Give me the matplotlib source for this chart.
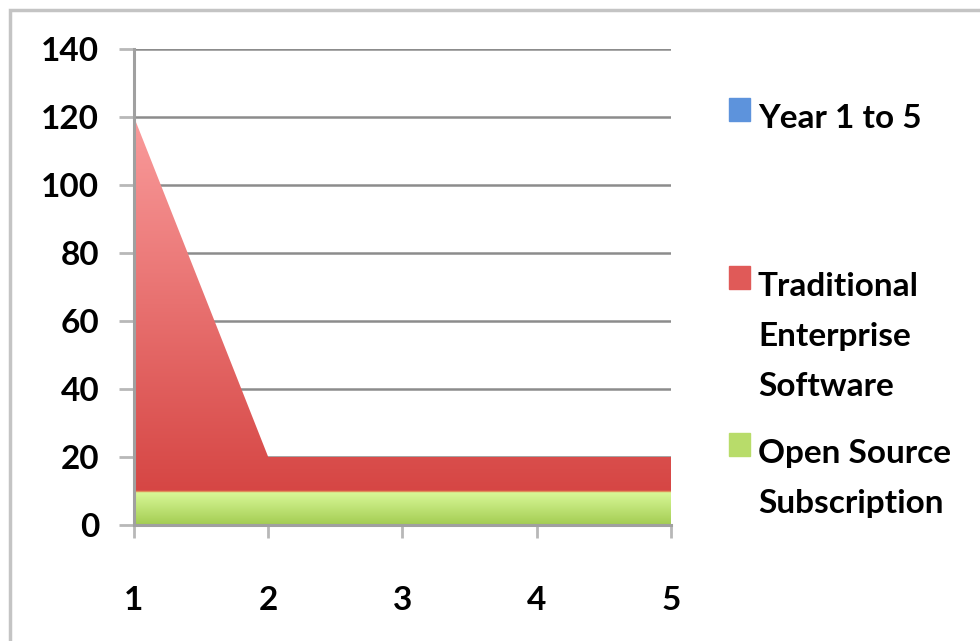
import numpy as np
import matplotlib.pyplot as plt
from matplotlib.colors import LinearSegmentedColormap
from matplotlib.patches import Rectangle

years = [1, 2, 3, 4, 5]
year_series = [0, 0, 0, 0, 0]                 # "Year 1 to 5" series, only shows in legend
open_source = [10, 10, 10, 10, 10]            # Open Source Subscription
traditional = [110, 10, 10, 10, 10]           # Traditional Enterprise Software (stacked on top)
y_ticks = [0, 20, 40, 60, 80, 100, 120, 140]

legend_labels = ['Year 1 to 5', 'Traditional\nEnterprise\nSoftware', 'Open Source\nSubscription']

plt.rcParams['font.family'] = ['Lato', 'DejaVu Sans']
plt.rcParams['font.weight'] = 'bold'

fig = plt.figure(figsize=(9.8, 6.41), dpi=100)
ax = fig.add_axes([0.1367, 0.1810, 0.548, 0.7426])

x = np.array(years, dtype=float)
os_top = np.array(open_source, dtype=float)
tr_top = os_top + np.array(traditional, dtype=float)

# gridlines behind areas
ax.set_axisbelow(True)
ax.yaxis.grid(True, color='#8c8c8c', linewidth=1.8)

def gradient_fill(x, y0, y1, top_col, bot_col):
    poly = ax.fill_between(x, y0, y1, color='none', linewidth=0)
    cmap = LinearSegmentedColormap.from_list('g', [bot_col, top_col])
    grad = np.linspace(0, 1, 256).reshape(-1, 1)
    im = ax.imshow(grad, cmap=cmap, origin='lower', aspect='auto',
                   extent=[x.min(), x.max(), np.min(y0), np.max(y1)], zorder=2)
    path = poly.get_paths()[0]
    im.set_clip_path(path, transform=ax.transData)

gradient_fill(x, os_top, tr_top, '#fa9c9c', '#d64644')
gradient_fill(x, np.zeros_like(x), os_top, '#dcfb9c', '#a3cc52')
ax.plot(x, os_top, color='#e0905a', linewidth=1.0, zorder=3)
ax.plot(x, year_series, color='#4a7fd0', linewidth=0, zorder=3)

ax.set_xlim(1, 5)
ax.set_ylim(0, 140)
ax.set_xticks(years)
ax.set_yticks(y_ticks)

for s in ['top', 'right']:
    ax.spines[s].set_visible(False)
for s in ['left', 'bottom']:
    ax.spines[s].set_color('#a0a0a0')
    ax.spines[s].set_linewidth(2.2)
    ax.spines[s].set_zorder(4)

ax.tick_params(axis='y', length=11, width=2, color='#b8b8b8', pad=14, labelsize=24)
ax.tick_params(axis='x', length=9, width=2, color='#b8b8b8', pad=35, labelsize=24)

# legend drawn by hand to keep the odd spacing
W, H = 980, 641
legend_items = [
    (legend_labels[0], '#5d93dc', 128),
    (legend_labels[1], '#e05a58', 296),
    (legend_labels[2], '#b8dc6a', 463),
]
for label, col, base in legend_items:
    fig.patches.append(Rectangle((729 / W, 1 - (base - 7) / H), 21 / W, 23 / H,
                                 transform=fig.transFigure, color=col, figure=fig))
    for i, line in enumerate(label.split('\n')):
        fig.text(758 / W, 1 - (base + 50 * i) / H, line, fontsize=24,
                 va='baseline', ha='left')

# grey frame around chart area
fig.patches.append(Rectangle((10 / W, -0.05), 1.1, 1 - 10 / H + 0.05, transform=fig.transFigure,
                             fill=False, edgecolor='#c4c4c4', linewidth=2.5, figure=fig))

fig.savefig('out.png', dpi=100)
